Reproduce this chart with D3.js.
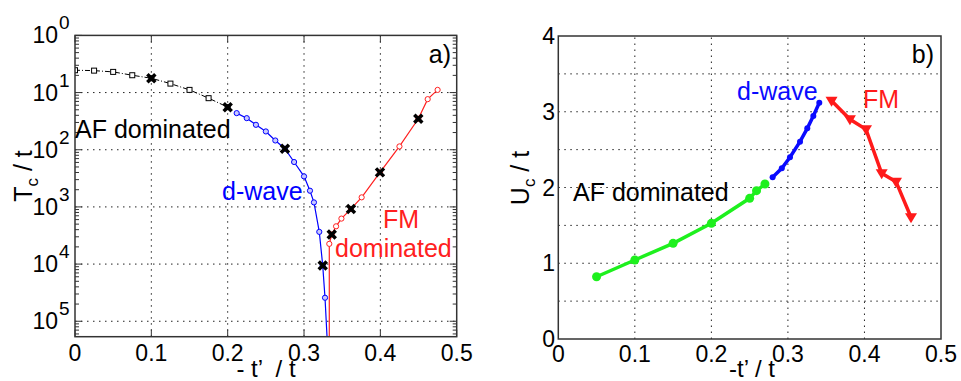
<!DOCTYPE html>
<html>
<head>
<meta charset="utf-8">
<script src="https://cdn.jsdelivr.net/npm/d3@7"></script>
<style>
	body { margin: 0; background: #fff; }
	svg { font-family: "Liberation Sans", Arial, sans-serif; }
	.grid line { stroke: #222; stroke-width: 1; stroke-dasharray: 1.5,4.5; }
</style>
</head>
<body>
<svg id="chart" width="961" height="381"></svg>
<script>
// panel a) : Tc / t versus -t'/t (log scale)
var afX = [0, 0.025, 0.05, 0.075, 0.1, 0.125, 0.15, 0.175, 0.2];
var afTc = [0.246, 0.242, 0.230, 0.201, 0.178, 0.1435, 0.1114, 0.0798, 0.0556];

var dwX = [0.2, 0.2118, 0.225, 0.237, 0.25, 0.2624, 0.275, 0.287, 0.3, 0.3078, 0.313, 0.32, 0.3245, 0.3275, 0.3318];
var dwTc = [0.0556, 0.0437, 0.0357, 0.0273, 0.0209, 0.01452, 0.0104, 0.0061, 0.00342, 0.00192, 0.0012, 0.000366, 0.0000946, 0.0000258, 0.000002];

var fmX = [0.3331, 0.3331, 0.3363, 0.342, 0.349, 0.3615, 0.3755, 0.3995, 0.425, 0.4497, 0.462, 0.475];
var fmTc = [0.000002, 0.000226, 0.000329, 0.000458, 0.000625, 0.000923, 0.00147, 0.00402, 0.01143, 0.0348, 0.0767, 0.1114];

var crossX = [0.1, 0.2, 0.275, 0.3245, 0.3363, 0.3615, 0.3995, 0.4497];
var crossTc = [0.178, 0.0556, 0.0104, 0.0000946, 0.000329, 0.000923, 0.00402, 0.0348];

var logTicks = [1, 1e-1, 1e-2, 1e-3, 1e-4, 1e-5];
var logTickExp = ["0", "1", "2", "3", "4", "5"];

// panel b) : Uc / t versus -t'/t
var afUx = [0.05, 0.1, 0.15, 0.2, 0.25, 0.259, 0.27];
var afU = [0.822, 1.043, 1.263, 1.527, 1.857, 1.958, 2.046];

var dwUx = [0.28, 0.292, 0.3027, 0.3158, 0.3253, 0.3332, 0.341];
var dwU = [2.135, 2.253, 2.399, 2.605, 2.781, 2.944, 3.12];

var fmUx = [0.357, 0.381, 0.402, 0.4225, 0.4412, 0.4608];
var fmU = [3.146, 2.90, 2.768, 2.187, 2.077, 1.607];

var xTicks = [0, 0.1, 0.2, 0.3, 0.4, 0.5];
var uTicks = [0, 0.5, 1, 1.5, 2, 2.5, 3, 3.5, 4];
var uLabels = [0, 1, 2, 3, 4];

var svg = d3.select("#chart");

drawPanelA();
drawPanelB();

function zip(xs, ys) {
	return xs.map(function(x, i) { return [x, ys[i]]; });
}

function crossPath(s) {
	return "M" + (-s) + "," + (-s) + "L" + s + "," + s + "M" + (-s) + "," + s + "L" + s + "," + (-s);
}

function drawPanelA() {
	var x = d3.scaleLinear().domain([0, 0.5]).range([75, 456.7]);
	var y = d3.scaleLog().domain([Math.pow(10, -5.27), 1]).range([336.7, 35.4]);

	var g = svg.append("g");

	g.append("clipPath").attr("id", "clipA")
		.append("rect")
		.attr("x", x(0)).attr("y", y(1))
		.attr("width", x(0.5) - x(0)).attr("height", y.range()[0] - y(1));

	// grid
	var grid = g.append("g").attr("class", "grid");
	grid.selectAll(".gx").data(xTicks.slice(1, -1)).enter().append("line")
		.attr("x1", x).attr("x2", x)
		.attr("y1", y.range()[0]).attr("y2", y.range()[1]);
	grid.selectAll(".gy").data(logTicks.slice(1)).enter().append("line")
		.attr("x1", x(0)).attr("x2", x(0.5))
		.attr("y1", y).attr("y2", y);

	// minor log ticks on both sides
	var minor = [];
	for (var e = -6; e < 0; e++) {
		for (var m = 2; m <= 9; m++) {
			var v = m * Math.pow(10, e);
			if (v >= y.domain()[0] && v <= 1) minor.push(v);
		}
	}
	var ticks = g.append("g").attr("stroke", "#333").attr("stroke-width", 1);
	[x(0), x(0.5)].forEach(function(px, k) {
		var dir = k == 0 ? 1 : -1;
		ticks.selectAll(null).data(minor).enter().append("line")
			.attr("x1", px).attr("x2", px + dir * 4)
			.attr("y1", y).attr("y2", y);
		ticks.selectAll(null).data(logTicks).enter().append("line")
			.attr("x1", px).attr("x2", px + dir * 7)
			.attr("y1", y).attr("y2", y);
	});
	[y.range()[0], y.range()[1]].forEach(function(py, k) {
		var dir = k == 0 ? -1 : 1;
		ticks.selectAll(null).data(xTicks).enter().append("line")
			.attr("x1", x).attr("x2", x)
			.attr("y1", py).attr("y2", py + dir * 7);
	});

	var plot = g.append("g").attr("clip-path", "url(#clipA)");

	var line = d3.line()
		.x(function(d) { return x(d[0]); })
		.y(function(d) { return y(d[1]); });

	plot.append("path")
		.datum(zip(afX, afTc))
		.attr("d", line)
		.attr("fill", "none").attr("stroke", "#000").attr("stroke-width", 1)
		.attr("stroke-dasharray", "5,2,1,2");
	plot.append("path")
		.datum(zip(dwX.slice(1), dwTc.slice(1)))
		.attr("d", line)
		.attr("fill", "none").attr("stroke", "#0000ff").attr("stroke-width", 1.2);
	plot.append("path")
		.datum(zip(fmX, fmTc))
		.attr("d", line)
		.attr("fill", "none").attr("stroke", "#ff2020").attr("stroke-width", 1.2);

	plot.selectAll(".sq").data(zip(afX, afTc)).enter().append("rect")
		.attr("x", function(d) { return x(d[0]) - 2.5; })
		.attr("y", function(d) { return y(d[1]) - 2.5; })
		.attr("width", 5).attr("height", 5)
		.attr("fill", "#fff").attr("stroke", "#000").attr("stroke-width", 1);

	plot.selectAll(".dw").data(zip(dwX.slice(1, -1), dwTc.slice(1, -1))).enter().append("circle")
		.attr("cx", function(d) { return x(d[0]); })
		.attr("cy", function(d) { return y(d[1]); })
		.attr("r", 2.6)
		.attr("fill", "#c8c8ff").attr("stroke", "#0000ff").attr("stroke-width", 1);

	plot.selectAll(".fm").data(zip(fmX.slice(1), fmTc.slice(1))).enter().append("circle")
		.attr("cx", function(d) { return x(d[0]); })
		.attr("cy", function(d) { return y(d[1]); })
		.attr("r", 2.6)
		.attr("fill", "#fff").attr("stroke", "#ff2020").attr("stroke-width", 1);

	plot.selectAll(".cross").data(zip(crossX, crossTc)).enter().append("path")
		.attr("transform", function(d) { return "translate(" + x(d[0]) + "," + y(d[1]) + ")"; })
		.attr("d", crossPath(4))
		.attr("stroke", "#000").attr("stroke-width", 3.5).attr("fill", "none");

	// box
	g.append("rect")
		.attr("x", x(0)).attr("y", y(1))
		.attr("width", x(0.5) - x(0)).attr("height", y.range()[0] - y(1))
		.attr("fill", "none").attr("stroke", "#333").attr("stroke-width", 1.5);

	// tick labels
	g.selectAll(".xt").data(xTicks).enter().append("text")
		.attr("x", x).attr("y", 361)
		.attr("text-anchor", "middle")
		.attr("font-size", 23)
		.text(function(d) { return d; });

	g.selectAll(".yt").data(logTicks).enter().append("text")
		.attr("x", 58).attr("y", function(d) { return y(d) + 8; })
		.attr("font-size", 23)
		.attr("text-anchor", "end")
		.text("10");
	g.selectAll(".ye").data(logTicks).enter().append("text")
		.attr("x", 59).attr("y", function(d) { return y(d) - 6; })
		.attr("font-size", 19)
		.text(function(d, i) { return logTickExp[i]; });

	// axis titles
	g.append("text")
		.attr("transform", "translate(32,176) rotate(-90)")
		.attr("text-anchor", "middle")
		.attr("font-size", 25)
		.html('T<tspan font-size="17" dy="6">c</tspan><tspan dy="-6"> / t</tspan>');
	g.append("text")
		.attr("x", 266).attr("y", 377)
		.attr("text-anchor", "middle")
		.attr("font-size", 24)
		.attr("xml:space", "preserve")
		.text("- t’  / t");

	// annotations
	g.append("text").attr("x", 451).attr("y", 63).attr("text-anchor", "end")
		.attr("font-size", 25).text("a)");
	g.append("text").attr("x", 75).attr("y", 138)
		.attr("font-size", 25).text("AF dominated");
	g.append("text").attr("x", 222).attr("y", 200)
		.attr("font-size", 25).attr("fill", "#0000ff").text("d-wave");
	g.append("text").attr("x", 383).attr("y", 228)
		.attr("font-size", 25).attr("fill", "#ff2020").text("FM");
	g.append("text").attr("x", 335).attr("y", 257)
		.attr("font-size", 25).attr("fill", "#ff2020").text("dominated");
}

function drawPanelB() {
	var x = d3.scaleLinear().domain([0, 0.5]).range([558.3, 941]);
	var y = d3.scaleLinear().domain([0, 4]).range([339, 36]);

	var g = svg.append("g");

	var grid = g.append("g").attr("class", "grid");
	grid.selectAll(".gx").data(xTicks.slice(1, -1)).enter().append("line")
		.attr("x1", x).attr("x2", x)
		.attr("y1", y(0)).attr("y2", y(4));
	grid.selectAll(".gy").data(uTicks.slice(1, -1)).enter().append("line")
		.attr("x1", x(0)).attr("x2", x(0.5))
		.attr("y1", y).attr("y2", y);

	var line = d3.line()
		.x(function(d) { return x(d[0]); })
		.y(function(d) { return y(d[1]); });

	g.append("path").datum(zip(afUx, afU)).attr("d", line)
		.attr("fill", "none").attr("stroke", "#1ef01e").attr("stroke-width", 3.5);
	g.selectAll(".gp").data(zip(afUx, afU)).enter().append("circle")
		.attr("cx", function(d) { return x(d[0]); })
		.attr("cy", function(d) { return y(d[1]); })
		.attr("r", 4.5).attr("fill", "#1ef01e");

	g.append("path").datum(zip(dwUx, dwU)).attr("d", line)
		.attr("fill", "none").attr("stroke", "#0a0aff").attr("stroke-width", 3.5);
	g.selectAll(".bp").data(zip(dwUx, dwU)).enter().append("circle")
		.attr("cx", function(d) { return x(d[0]); })
		.attr("cy", function(d) { return y(d[1]); })
		.attr("r", 3).attr("fill", "#0a0aff");

	g.append("path").datum(zip(fmUx, fmU)).attr("d", line)
		.attr("fill", "none").attr("stroke", "#ff1a1a").attr("stroke-width", 3.5);
	g.selectAll(".rp").data(zip(fmUx, fmU)).enter().append("path")
		.attr("transform", function(d) { return "translate(" + x(d[0]) + "," + y(d[1]) + ")"; })
		.attr("d", "M-6,-4L6,-4L0,6Z")
		.attr("fill", "#ff1a1a");

	g.append("rect")
		.attr("x", x(0)).attr("y", y(4))
		.attr("width", x(0.5) - x(0)).attr("height", y(0) - y(4))
		.attr("fill", "none").attr("stroke", "#333").attr("stroke-width", 1.5);

	g.selectAll(".xt").data(xTicks).enter().append("text")
		.attr("x", x).attr("y", 362)
		.attr("text-anchor", "middle")
		.attr("font-size", 23)
		.text(function(d) { return d; });
	g.selectAll(".yt").data(uLabels).enter().append("text")
		.attr("x", 555).attr("y", function(d) { return y(d) + 8; })
		.attr("text-anchor", "end")
		.attr("font-size", 23)
		.text(function(d) { return d; });

	g.append("text")
		.attr("transform", "translate(529,178) rotate(-90)")
		.attr("text-anchor", "middle")
		.attr("font-size", 25)
		.html('U<tspan font-size="17" dy="6">c</tspan><tspan dy="-6"> / t</tspan>');
	g.append("text")
		.attr("x", 752).attr("y", 377)
		.attr("text-anchor", "middle")
		.attr("font-size", 24)
		.text("-t’ / t");

	g.append("text").attr("x", 934).attr("y", 63).attr("text-anchor", "end")
		.attr("font-size", 25).text("b)");
	g.append("text").attr("x", 737).attr("y", 100)
		.attr("font-size", 25).attr("fill", "#0a0aff").text("d-wave");
	g.append("text").attr("x", 863).attr("y", 108)
		.attr("font-size", 25).attr("fill", "#ff1a1a").text("FM");
	g.append("text").attr("x", 573).attr("y", 201)
		.attr("font-size", 25).text("AF dominated");
}
</script>
</body>
</html>
